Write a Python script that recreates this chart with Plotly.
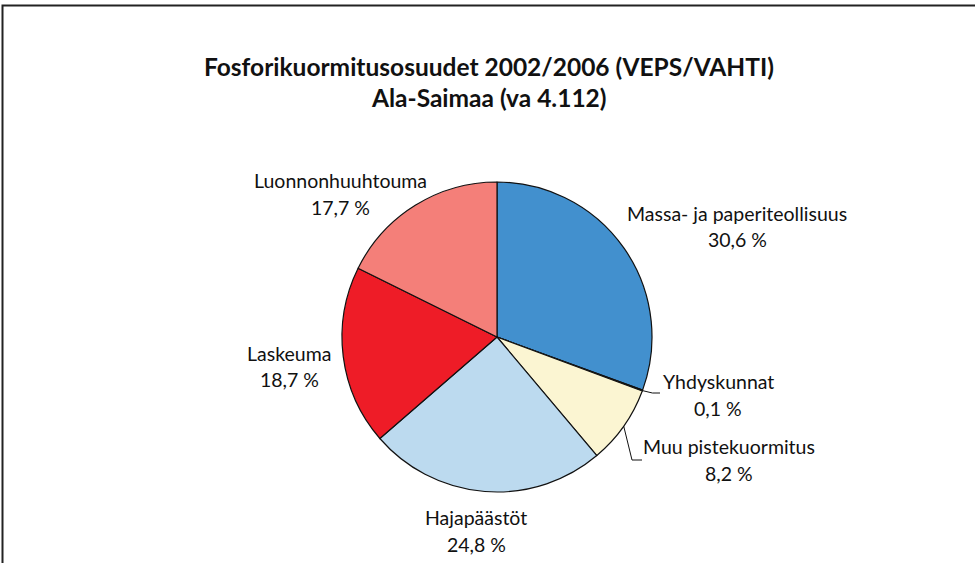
import math
import plotly.graph_objects as go

categories = ["Massa- ja paperiteollisuus", "Yhdyskunnat", "Muu pistekuormitus",
              "Hajapäästöt", "Laskeuma", "Luonnonhuuhtouma"]
values = [30.6, 0.1, 8.2, 24.8, 18.7, 17.7]
value_labels = ["30,6 %", "0,1 %", "8,2 %", "24,8 %", "18,7 %", "17,7 %"]
colors = ["#4290CE", "#7FA8CC", "#FBF5D2", "#BCDAEF", "#EE1C27", "#F47F79"]

W, H = 975, 563
cx, cy, R = 497, 337, 155  # pie centre / radius in px

fig = go.Figure(go.Pie(
    labels=categories, values=values, sort=False, direction="clockwise",
    rotation=0, textinfo="none", hoverinfo="label+percent",
    marker=dict(colors=colors, line=dict(color="#111111", width=1.2)),
    domain=dict(x=[(cx - R) / W, (cx + R) / W], y=[(H - cy - R) / H, (H - cy + R) / H]),
    showlegend=False,
))

# label positions (px centre x, first-line y)
label_pos = {
    "Massa- ja paperiteollisuus": (737, 213),
    "Yhdyskunnat": (718, 381),
    "Muu pistekuormitus": (729, 446),
    "Hajapäästöt": (476, 517),
    "Laskeuma": (289, 353),
    "Luonnonhuuhtouma": (340, 180),
}
font = dict(family="Lato, 'Open Sans', sans-serif", size=19.5, color="#111111")
for cat, val in zip(categories, value_labels):
    x, y = label_pos[cat]
    fig.add_annotation(x=x / W, y=1 - y / H, xref="paper", yref="paper", text=cat,
                       showarrow=False, font=font, xanchor="center", yanchor="middle")
    fig.add_annotation(x=x / W, y=1 - (y + 27) / H, xref="paper", yref="paper", text=val,
                       showarrow=False, font=font, xanchor="center", yanchor="middle")

# leader lines from slice edges (computed from data)
total = sum(values)
def edge_point(frac):
    a = 2 * math.pi * frac
    return cx + R * math.sin(a), cy - R * math.cos(a)

cum = 0
starts = {}
for cat, v in zip(categories, values):
    starts[cat] = (cum, cum + v)
    cum += v
s, e = starts["Yhdyskunnat"]
p = edge_point(((s + e) / 2) / total)
leaders = [[p, (p[0] + 10, 393), (660, 393)]]
s, e = starts["Muu pistekuormitus"]
p = edge_point(((s + e) / 2) / total)
leaders.append([p, (632, 460), (642, 460)])
for pts in leaders:
    path = "M " + " L ".join(f"{x / W},{1 - y / H}" for x, y in pts)
    fig.add_shape(type="path", path=path, xref="paper", yref="paper",
                  line=dict(color="#111111", width=1))

# frame
fig.add_shape(type="rect", xref="paper", yref="paper", x0=2.5 / W, x1=1.05,
              y0=-0.05, y1=1 - 5.5 / H, line=dict(color="#222222", width=2))

title_font = dict(family="Lato, 'Open Sans', sans-serif", size=24.5, color="#111111")
fig.add_annotation(x=489 / W, y=1 - 67 / H, xref="paper", yref="paper",
                   text="<b>Fosforikuormitusosuudet 2002/2006 (VEPS/VAHTI)</b>",
                   showarrow=False, xanchor="center", yanchor="middle", font=title_font)
fig.add_annotation(x=489 / W, y=1 - 97 / H, xref="paper", yref="paper",
                   text="<b>Ala-Saimaa (va 4.112)</b>",
                   showarrow=False, xanchor="center", yanchor="middle", font=title_font)

fig.update_layout(width=W, height=H, margin=dict(l=0, r=0, t=0, b=0),
                  paper_bgcolor="white", plot_bgcolor="white")
fig.write_html("out.html", config={"displayModeBar": False},
               post_script="document.body.style.margin='0';document.body.style.overflow='hidden';")
